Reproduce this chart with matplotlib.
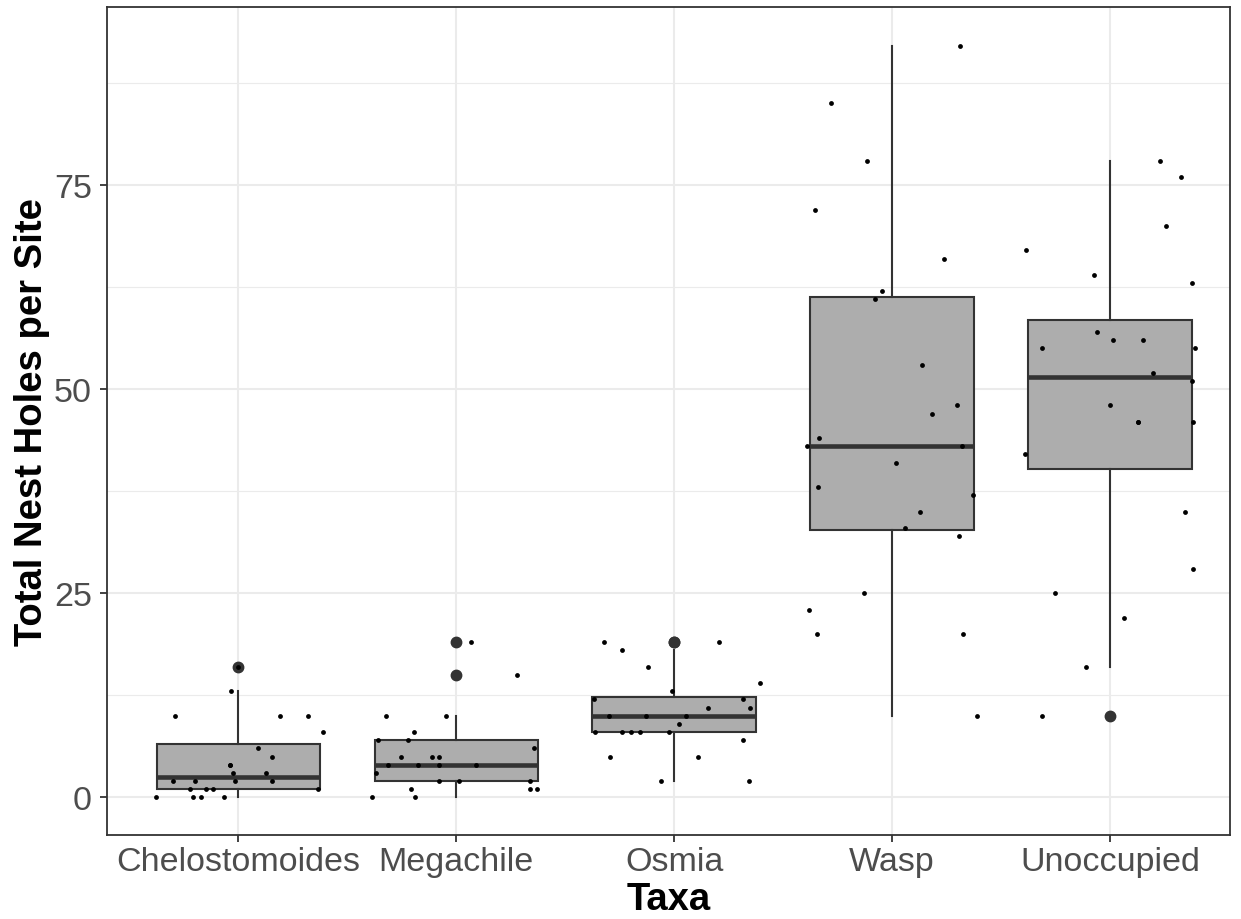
import matplotlib
matplotlib.use("Agg")
import matplotlib.pyplot as plt
import numpy as np

plt.rcParams['font.family'] = ['Liberation Sans', 'DejaVu Sans']

# Categories on the x axis
taxa = ["Chelostomoides", "Megachile", "Osmia", "Wasp", "Unoccupied"]

# Nest hole counts per site
chelo_vals = [10, 13, 10, 10, 8, 6, 5, 4, 4, 3, 3, 2, 2, 2, 2, 1, 1, 1, 1, 0, 0, 0, 0, 16]
chelo_jit = [-0.29, -0.035, 0.191, 0.321, 0.387, 0.090, 0.156, -0.038, -0.038, -0.023, 0.127,
             -0.300, -0.199, -0.015, 0.156, -0.222, -0.148, -0.116, 0.366, -0.379, -0.207,
             -0.171, -0.064, 0.0]

mega_vals = [19, 15, 10, 10, 8, 7, 7, 6, 5, 5, 5, 4, 4, 4, 4, 3, 2, 2, 2, 1, 1, 1, 0, 0]
mega_jit = [0.066, 0.279, -0.324, -0.047, -0.194, -0.359, -0.223, 0.355, -0.252, -0.110,
            -0.081, -0.312, -0.176, -0.081, 0.089, -0.369, -0.078, 0.014, 0.338, -0.207,
            0.338, 0.372, -0.385, -0.187]

osmia_vals = [19, 19, 18, 16, 14, 13, 12, 12, 11, 11, 10, 10, 10, 9, 8, 8, 8, 8, 8, 7, 5, 5, 2, 2]
osmia_jit = [-0.324, 0.205, -0.240, -0.122, 0.392, -0.011, -0.367, 0.314, 0.155, 0.347,
             -0.298, -0.128, 0.052, 0.020, -0.363, -0.241, -0.199, -0.157, -0.024, 0.317,
             -0.294, 0.109, -0.061, 0.341]

wasp_vals = [92, 85, 78, 72, 66, 62, 61, 53, 48, 47, 44, 43, 43, 41, 38, 37, 35, 33, 32, 25,
             23, 20, 20, 10]
wasp_jit = [0.313, -0.280, -0.115, -0.352, 0.237, -0.045, -0.078, 0.138, 0.298, 0.182,
            -0.336, -0.393, 0.320, 0.018, -0.340, 0.369, 0.127, 0.058, 0.306, -0.127,
            -0.380, -0.346, 0.323, 0.390]

unocc_vals = [78, 76, 70, 67, 64, 63, 57, 56, 56, 55, 55, 52, 51, 48, 46, 46, 46, 42, 35, 28,
              25, 22, 16, 10]
unocc_jit = [0.229, 0.326, 0.256, -0.385, -0.073, 0.375, -0.061, 0.015, 0.151, -0.313,
             0.391, 0.199, 0.376, -0.001, 0.130, 0.381, 0.130, -0.390, 0.344, 0.382,
             -0.254, 0.064, -0.110, -0.313]

all_vals = [chelo_vals, mega_vals, osmia_vals, wasp_vals, unocc_vals]
all_jit = [chelo_jit, mega_jit, osmia_jit, wasp_jit, unocc_jit]

dark = '#333333'

fig = plt.figure(figsize=(12.41, 9.2), dpi=100)
ax = fig.add_axes([107.3 / 1241, 84 / 920, (1230 - 107.3) / 1241, (836 - 8) / 920])

pos = np.arange(1, len(taxa) + 1)

# Boxplots (R type 7 quantiles == numpy linear)
ax.boxplot(all_vals, positions=pos, widths=0.75, patch_artist=True,
           boxprops=dict(facecolor='#ADADAD', edgecolor=dark, linewidth=1.5),
           medianprops=dict(color=dark, linewidth=3.3, solid_capstyle='butt'),
           whiskerprops=dict(color=dark, linewidth=1.5),
           capprops=dict(linewidth=0), capwidths=0,
           flierprops=dict(marker='o', markerfacecolor=dark, markeredgecolor=dark,
                           markersize=7.5),
           zorder=2)

# Jittered raw points
for p, vals, jit in zip(pos, all_vals, all_jit):
    ax.scatter(p + np.array(jit), vals, s=12, color='black', linewidths=0, zorder=3)

ax.set_xlim(0.399, 5.55)
ax.set_ylim(-4.6, 96.8)
ax.set_xticks(pos)
ax.set_xticklabels(taxa)
ax.set_yticks([0, 25, 50, 75])
ax.set_yticks([12.5, 37.5, 62.5, 87.5], minor=True)

# ggplot theme_bw look
ax.set_axisbelow(True)
ax.grid(which='major', color='#EBEBEB', linewidth=1.5)
ax.grid(which='minor', axis='y', color='#EBEBEB', linewidth=0.8)
ax.tick_params(which='major', length=5, width=1.3, color=dark, labelsize=24.5,
               labelcolor='#4D4D4D', pad=3)
ax.tick_params(axis='y', which='major', pad=6)
ax.tick_params(which='minor', length=0)
for s in ax.spines.values():
    s.set_color(dark)
    s.set_linewidth(1.3)

ax.set_xlabel("Taxa", fontsize=27.5, fontweight='bold', labelpad=3)
ax.set_ylabel("Total Nest Holes per Site", fontsize=27.5, fontweight='bold', labelpad=3)

fig.savefig("out.png", dpi=100)
